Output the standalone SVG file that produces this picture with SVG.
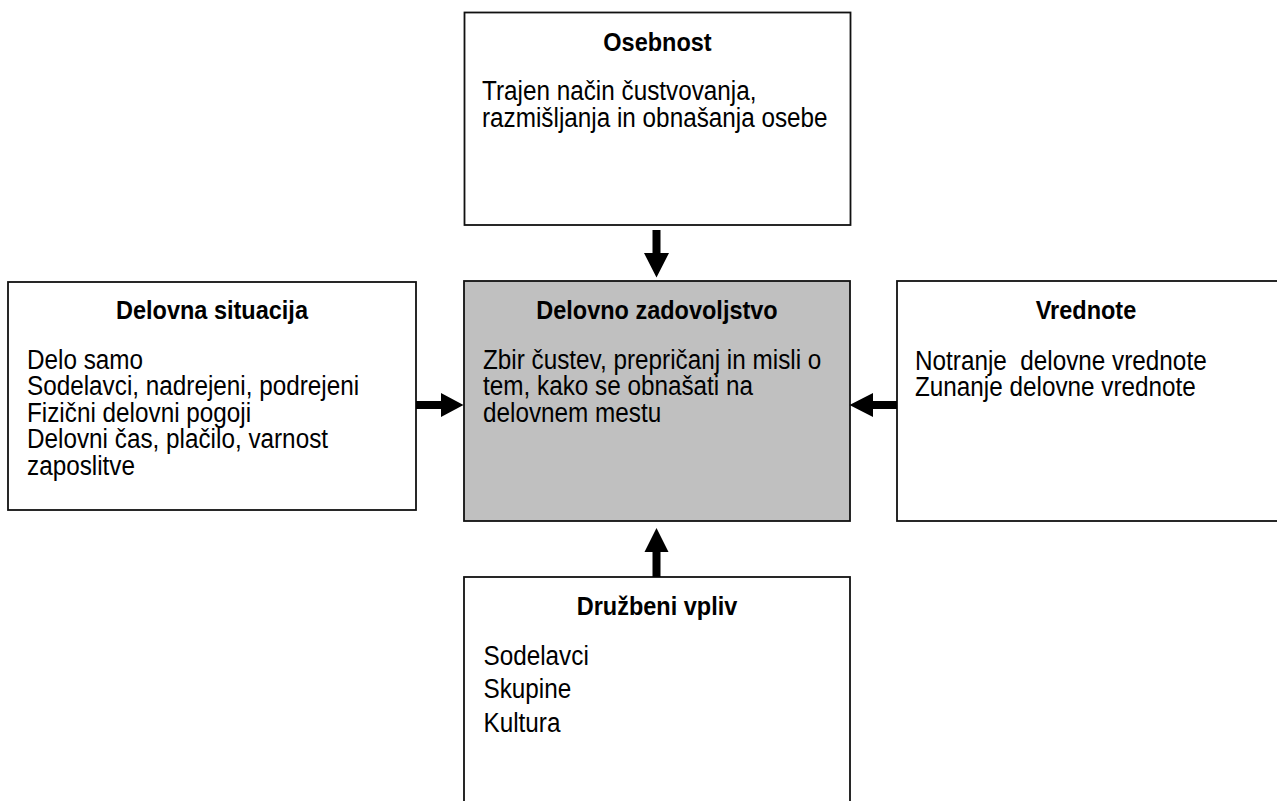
<svg xmlns="http://www.w3.org/2000/svg" width="1277" height="801" viewBox="0 0 1277 801">
  <style>
    .box { fill: #ffffff; stroke: #111111; stroke-width: 1.8; }
    .core { fill: #c0c0c0; stroke: #111111; stroke-width: 1.8; }
    .title { font-family: "Liberation Sans", Arial, sans-serif; font-weight: bold; font-size: 25px; fill: #000; text-anchor: middle; }
    .body { font-family: "Liberation Sans", Arial, sans-serif; font-size: 27px; fill: #000; }
    .arrow { fill: #000; stroke: none; }
  </style>
  <rect x="0" y="0" width="1277" height="801" fill="#ffffff"/>

  <!-- Osebnost (top) -->
  <g id="osebnost">
    <rect class="box" x="464.5" y="12.5" width="386" height="212.5"/>
    <g transform="translate(657.5,0) scale(0.94,1)">
      <text class="title" x="0" y="51">Osebnost</text>
    </g>
    <g transform="translate(482,0) scale(0.9,1)">
      <text class="body" x="0" y="100.5">Trajen način čustvovanja,</text>
      <text class="body" x="0" y="127.5">razmišljanja in obnašanja osebe</text>
    </g>
  </g>

  <!-- Delovna situacija (left) -->
  <g id="delovna-situacija">
    <rect class="box" x="8" y="282" width="408" height="228"/>
    <g transform="translate(212,0) scale(0.94,1)">
      <text class="title" x="0" y="319">Delovna situacija</text>
    </g>
    <g transform="translate(27,0) scale(0.9,1)">
      <text class="body" x="0" y="369">Delo samo</text>
      <text class="body" x="0" y="395.5">Sodelavci, nadrejeni, podrejeni</text>
      <text class="body" x="0" y="422">Fizični delovni pogoji</text>
      <text class="body" x="0" y="448.5">Delovni čas, plačilo, varnost</text>
      <text class="body" x="0" y="475">zaposlitve</text>
    </g>
  </g>

  <!-- Delovno zadovoljstvo (centre) -->
  <g id="delovno-zadovoljstvo">
    <rect class="core" x="464" y="281" width="386" height="240"/>
    <g transform="translate(657,0) scale(0.94,1)">
      <text class="title" x="0" y="319">Delovno zadovoljstvo</text>
    </g>
    <g transform="translate(483,0) scale(0.9,1)">
      <text class="body" x="0" y="369">Zbir čustev, prepričanj in misli o</text>
      <text class="body" x="0" y="395.5">tem, kako se obnašati na</text>
      <text class="body" x="0" y="422">delovnem mestu</text>
    </g>
  </g>

  <!-- Vrednote (right) -->
  <g id="vrednote">
    <rect class="box" x="897" y="281" width="390" height="240"/>
    <g transform="translate(1086,0) scale(0.94,1)">
      <text class="title" x="0" y="319">Vrednote</text>
    </g>
    <g transform="translate(915,0) scale(0.9,1)">
      <text class="body" x="0" y="370" xml:space="preserve">Notranje  delovne vrednote</text>
      <text class="body" x="0" y="396.5">Zunanje delovne vrednote</text>
    </g>
  </g>

  <!-- Družbeni vpliv (bottom) -->
  <g id="druzbeni-vpliv">
    <rect class="box" x="464" y="577" width="386" height="240"/>
    <g transform="translate(657,0) scale(0.94,1)">
      <text class="title" x="0" y="615">Družbeni vpliv</text>
    </g>
    <g transform="translate(483.5,0) scale(0.9,1)">
      <text class="body" x="0" y="665">Sodelavci</text>
      <text class="body" x="0" y="698.5">Skupine</text>
      <text class="body" x="0" y="732">Kultura</text>
    </g>
  </g>

  <!-- block arrows pointing into the centre box -->
  <g id="connectors">
    <polygon class="arrow" points="652.5,230 660.5,230 660.5,253 669,253 656.5,277.5 644,253 652.5,253"/>
    <polygon class="arrow" points="416,401 441,401 441,393 463.5,405 441,417 441,409 416,409"/>
    <polygon class="arrow" points="897,401 873,401 873,393 849.5,405 873,417 873,409 897,409"/>
    <polygon class="arrow" points="652.5,577 652.5,552 644.5,552 656.5,528 668.5,552 660.5,552 660.5,577"/>
  </g>
</svg>
